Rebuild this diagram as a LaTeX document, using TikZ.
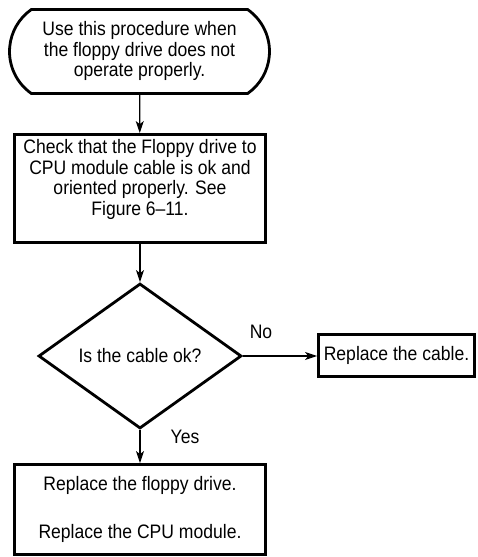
\documentclass[tikz,border=0pt]{standalone}
\usepackage{fontspec}
\setmainfont{Liberation Sans}[FakeStretch=0.9]
\usepackage{tikz}
\usetikzlibrary{arrows.meta,shapes.geometric,shapes.misc}

\begin{document}
\begin{tikzpicture}[x=1pt, y=-1pt,
    every node/.style={font=\fontsize{19.5}{20.5}\selectfont, align=center},
    box/.style={draw, rectangle, line width=2.8pt, inner sep=0pt},
    arr/.style={-{Stealth[length=12pt, width=8pt, inset=3pt]}, line width=1.2pt}]
            \useasboundingbox (0,0) rectangle (477,557);
            
            % start: rounded terminator
            \node[draw, rounded rectangle, rounded rectangle arc length=110, line width=2.8pt,
                  minimum width=260pt, minimum height=84pt, inner sep=0pt, text depth=5pt] (start) at (139.5,51.5)
                {Use this procedure when\\the floppy drive does not\\operate properly.};
            
            % check the cable
            \node[box, minimum width=251pt, minimum height=108pt, text depth=22pt] (check) at (140,188.5)
                {Check that the Floppy drive to\\CPU module cable is ok and\\oriented properly. See\\Figure 6--11.};
            
            % decision
            \node[draw, diamond, line width=2.8pt, aspect=1.4, minimum width=203pt,
                  minimum height=145pt, inner sep=0pt] (cableok) at (140,356) {Is the cable ok?};
            
            % replace cable
            \node[box, minimum width=156pt, minimum height=42pt] (cable) at (396.5,355.5) {Replace the cable.};
            
            % replace drive / cpu
            \node[box, minimum width=251pt, minimum height=90pt] (drive) at (140,509.5)
                {Replace the floppy drive.\\[27pt]Replace the CPU module.};
            
            % arrows
            \draw[arr] (start) -- (check);
            \draw[arr] (check) -- (cableok);
            \draw[arr] (cableok.east) -- (cableok.east -| cable.west);
            \draw[arr] (cableok) -- (drive);
            
            % No / Yes
            \node (no) at (261,331.5) {No};
            \node (yes) at (185,436.5) {Yes};
        \end{tikzpicture}
\end{document}
